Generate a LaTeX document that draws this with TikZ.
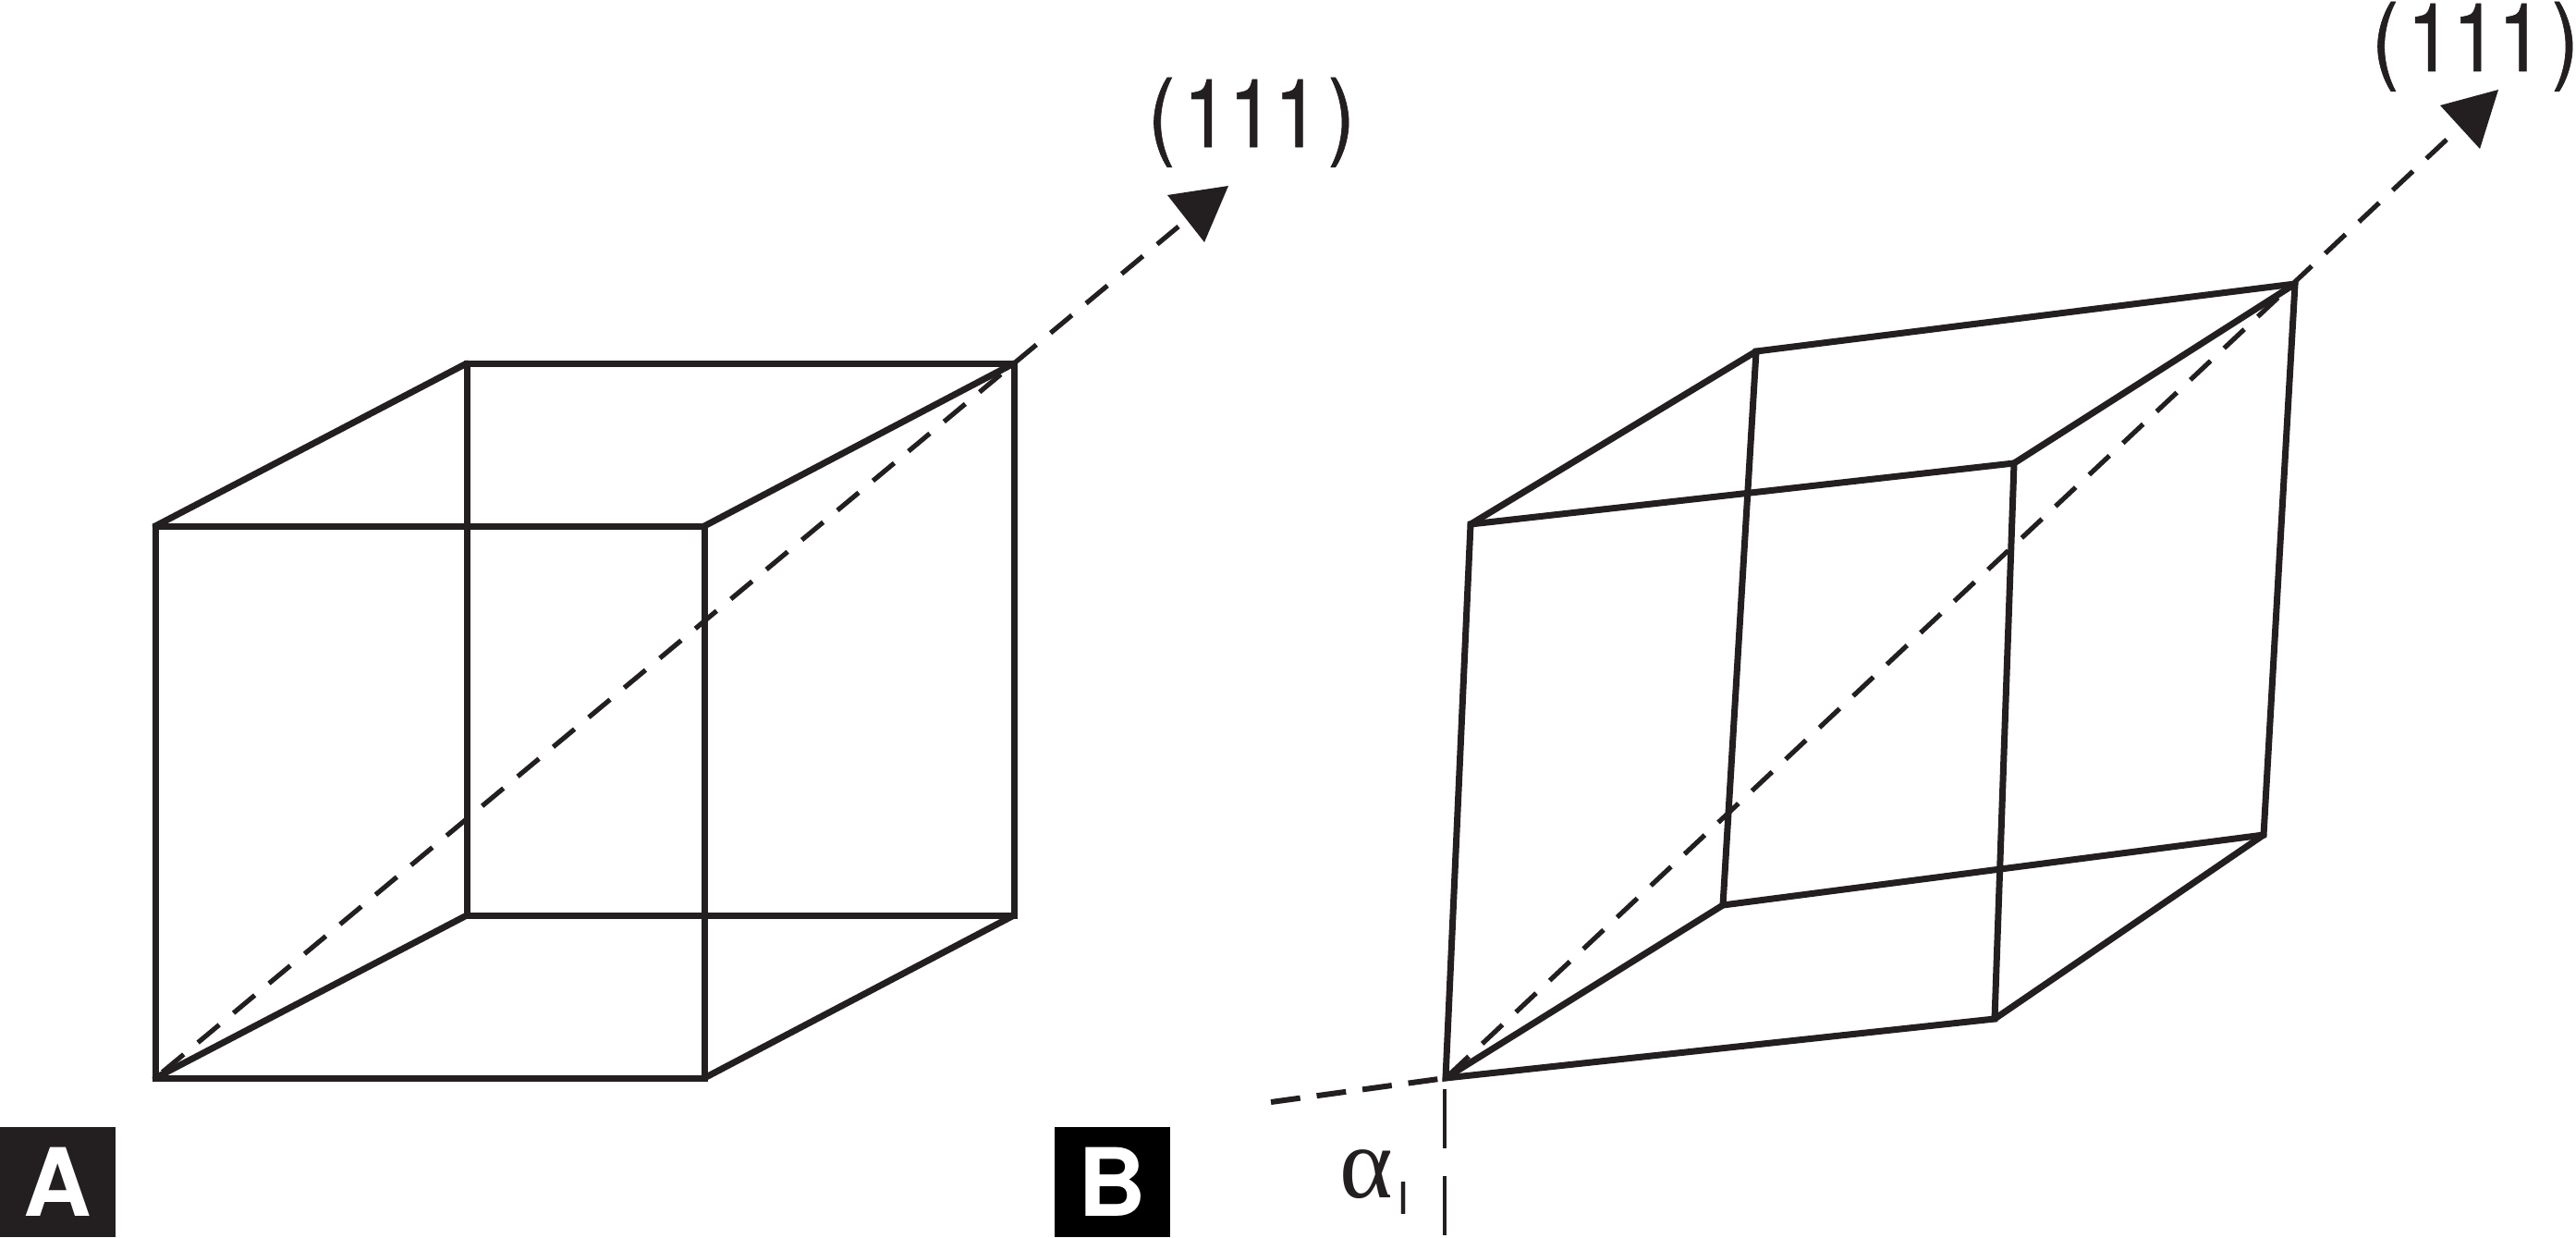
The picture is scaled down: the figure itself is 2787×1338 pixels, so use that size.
\documentclass[tikz,border=0pt]{standalone}
\usepackage{fontspec}
\setmainfont{TeX Gyre Heros}
\newfontfamily\serifgreek{Liberation Serif}
\newfontfamily\millerfont[FakeBold=0.7]{TeX Gyre Heros}
\definecolor{ink}{HTML}{231F20}
\tikzset{
  edge/.style={draw=ink,line width=3.5pt,line join=miter,line cap=round},
  axis/.style={draw=ink,line width=2.6pt,dash pattern=on 15pt off 10pt},
  refline/.style={draw=ink,line width=3pt,dash pattern=on 16pt off 9pt},
  vertline/.style={draw=ink,line width=1.9pt,dash pattern=on 32pt off 15pt},
  head/.style={fill=ink},
  dirlabel/.style={anchor=base,inner sep=0pt,text=ink,font=\millerfont\fontsize{51.5}{55}\selectfont},
  panelbox/.style={minimum width=62.5pt,minimum height=59.5pt,inner sep=0pt,text=white,font=\fontsize{51}{55}\selectfont\bfseries}
}
\newcommand{\millerlabel}{\scalebox{.86}[1]{(\kern5pt 111\kern5pt)}}
\begin{document}
\begin{tikzpicture}[x=0.5pt,y=-0.5pt]
\useasboundingbox (0,0) rectangle (2787,1338);
% Cube A
\coordinate (a1) at (168,1166);
\coordinate (a2) at (762,1166);
\coordinate (a3) at (762,569);
\coordinate (a4) at (168,569);
\coordinate (a5) at (505,990);
\coordinate (a6) at (1097,990);
\coordinate (a7) at (1097,393);
\coordinate (a8) at (505,393);
\coordinate (ad) at (1275,245);
\coordinate (at) at (1329,201);
\coordinate (ab1) at (1263,211);
\coordinate (ab2) at (1303,262);
% Cube B
\coordinate (b1) at (1564,1166);
\coordinate (b2) at (2158,1102);
\coordinate (b3) at (2179,501);
\coordinate (b4) at (1591,567);
\coordinate (b5) at (1864,979);
\coordinate (b6) at (2449,903);
\coordinate (b7) at (2483,307);
\coordinate (b8) at (1900,380);
\coordinate (bd) at (2647,151);
\coordinate (bt) at (2703,97);
\coordinate (bb1) at (2640,114);
\coordinate (bb2) at (2683,161);
\coordinate (r1) at (1375,1192);
\coordinate (v1) at (1563,1178);
\coordinate (v2) at (1563,1336);
% axes
\draw[axis] (ad) -- (a1);
\draw[axis] (bd) -- (b1);
\fill[head] (at) -- (ab1) -- (ab2) -- cycle;
\fill[head] (bt) -- (bb1) -- (bb2) -- cycle;
% cube edges
\draw[edge] (a1) -- (a2) -- (a3) -- (a4) -- cycle;
\draw[edge] (a5) -- (a6) -- (a7) -- (a8) -- cycle;
\draw[edge] (a1) -- (a5) (a2) -- (a6) (a3) -- (a7) (a4) -- (a8);
\draw[edge] (b1) -- (b2) -- (b3) -- (b4) -- cycle;
\draw[edge] (b5) -- (b6) -- (b7) -- (b8) -- cycle;
\draw[edge] (b1) -- (b5) (b2) -- (b6) (b3) -- (b7) (b4) -- (b8);
% angle reference lines
\draw[refline] (r1) -- (b1);
\draw[vertline] (v1) -- (v2);
% labels
\node[dirlabel] (la) at (1354,159) {\millerlabel};
\node[dirlabel] (lb) at (2678,77) {\millerlabel};
\node[panelbox,fill=ink] (pa) at (62.5,1278) {A};
\node[panelbox,fill=black] (pb) at (1203.5,1278) {B};
\node[anchor=base,inner sep=0pt,text=ink,font=\serifgreek\fontsize{55}{60}\selectfont] (alpha) at (1478,1295) {α};
\node[anchor=base,inner sep=0pt,text=ink,font=\fontsize{24}{28}\selectfont] (sub) at (1518,1313) {I};
\end{tikzpicture}
\end{document}
